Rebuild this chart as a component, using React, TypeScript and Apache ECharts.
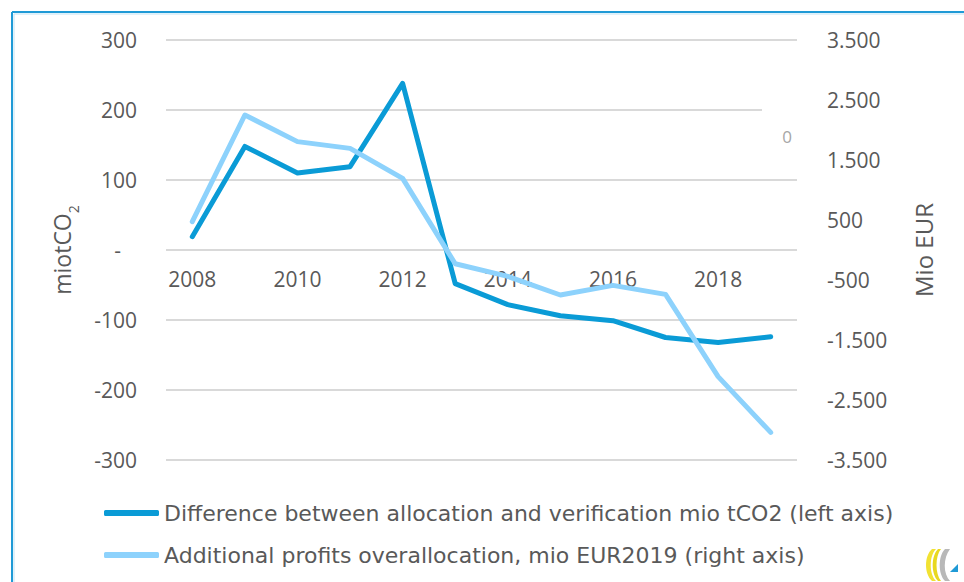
import React, { useEffect, useRef } from "react";
import * as echarts from "echarts";

const years = ["2008", "2009", "2010", "2011", "2012", "2013", "2014", "2015", "2016", "2017", "2018", "2019"];
const differenceMtCO2 = [19, 148, 110, 119, 238, -48, -78, -94, -101, -125, -132, -124];
const additionalProfitsMioEUR = [472, 2250, 1806, 1694, 1194, -230, -440, -750, -590, -740, -2110, -3040];
const seriesNames = [
  "Difference between allocation and verification mio tCO2 (left axis)",
  "Additional profits overallocation, mio EUR2019 (right axis)",
];
const leftAxisName = "miotCO";
const rightAxisName = "Mio EUR";
const strayLabel = "0";

const LOGO_YELLOW_A = "M10,2 C2,9 2,27 10,34 L14,34 C7,27 7,9 14,2 Z";
const LOGO_YELLOW_B = "M16,2 C9,9 9,27 16,34 L19,34 C13,27 13,9 19,2 Z";
const LOGO_GREY = "M23,2 C16,9 16,27 23,34 L28,34 C21,27 21,11 28,2 Z";

function fmtThousands(v: number): string {
  const s = Math.abs(v).toString();
  const withDots = s.replace(/\B(?=(\d{3})+(?!\d))/g, ".");
  return (v < 0 ? "-" : "") + withDots;
}

export default function App() {
  const ref = useRef<HTMLDivElement>(null);
  useEffect(() => {
    document.body.style.margin = "0";
    if (!ref.current) return;
    try {
      echarts.graphic.registerShape("logoYA", echarts.graphic.extendPath(LOGO_YELLOW_A, {}) as any);
      echarts.graphic.registerShape("logoYB", echarts.graphic.extendPath(LOGO_YELLOW_B, {}) as any);
      echarts.graphic.registerShape("logoG", echarts.graphic.extendPath(LOGO_GREY, {}) as any);
    } catch (e) {}
    const chart = echarts.init(ref.current, undefined, { renderer: "svg" });
    const labelColor = "#595959";
    const axisFont = "'Open Sans', sans-serif";
    chart.setOption({
      animation: false,
      backgroundColor: "#ffffff",
      grid: { left: 166, right: 167, top: 40, bottom: 122, containLabel: false },
      legend: {
        orient: "vertical",
        left: 104,
        top: 501,
        padding: 0,
        itemWidth: 55,
        itemHeight: 6,
        itemGap: 18,
        icon: "roundRect",
        data: seriesNames,
        textStyle: {
          color: labelColor,
          fontFamily: "'DejaVu Sans', sans-serif",
          fontSize: 22,
          lineHeight: 24,
        },
      },
      xAxis: {
        type: "category",
        data: years,
        boundaryGap: true,
        position: "bottom",
        offset: -210,
        axisLine: { show: false, onZero: false },
        axisTick: { show: false },
        axisLabel: {
          interval: 1,
          color: labelColor,
          fontFamily: axisFont,
          fontSize: 21,
          margin: 18,
        },
        splitLine: { show: false },
      },
      yAxis: [
        {
          type: "value",
          min: -300,
          max: 300,
          interval: 100,
          position: "left",
          name: "{a|" + leftAxisName + "}{b|2}",
          nameLocation: "middle",
          nameRotate: 90,
          nameGap: 90,
          nameTextStyle: {
            rich: {
              a: { fontFamily: axisFont, fontSize: 23, color: labelColor, lineHeight: 28 },
              b: { fontFamily: axisFont, fontSize: 14, color: labelColor, verticalAlign: "bottom", lineHeight: 28, padding: [0, 0, -4, 0] },
            },
          },
          axisLine: { show: false },
          axisTick: { show: false },
          axisLabel: {
            color: labelColor,
            fontFamily: axisFont,
            fontSize: 21,
            margin: 29,
            formatter: (v: number) => (v === 0 ? "{d|-}" : String(v)),
            rich: { d: { color: labelColor, fontFamily: axisFont, fontSize: 21, padding: [0, 16, 0, 0] } },
          },
          splitLine: { show: true, lineStyle: { color: "#d9d9d9", width: 2 } },
        },
        {
          type: "value",
          min: -3500,
          max: 3500,
          interval: 500,
          position: "right",
          name: rightAxisName,
          nameLocation: "middle",
          nameRotate: 90,
          nameGap: 114,
          nameTextStyle: { color: labelColor, fontFamily: axisFont, fontSize: 24 },
          axisLine: { show: false },
          axisTick: { show: false },
          axisLabel: {
            color: labelColor,
            fontFamily: axisFont,
            fontSize: 21,
            margin: 30,
            formatter: (v: number) => (v % 1000 === 0 ? "" : fmtThousands(v)),
          },
          splitLine: { show: false },
        },
      ],
      series: [
        {
          name: seriesNames[0],
          type: "line",
          yAxisIndex: 0,
          data: differenceMtCO2,
          symbol: "none",
          color: "#0a9bd6",
          lineStyle: { color: "#0a9bd6", width: 5, cap: "round", join: "round" },
        },
        {
          name: seriesNames[1],
          type: "line",
          yAxisIndex: 1,
          data: additionalProfitsMioEUR,
          symbol: "none",
          color: "#8dd2fc",
          lineStyle: { color: "#8dd2fc", width: 5, cap: "round", join: "round" },
        },
      ],
      graphic: [
        { type: "line", shape: { x1: 12, y1: 12, x2: 964, y2: 12 }, style: { stroke: "#1f9ad6", lineWidth: 2 } },
        { type: "line", shape: { x1: 12, y1: 12, x2: 12, y2: 582 }, style: { stroke: "#1f9ad6", lineWidth: 2 } },
        { type: "line", shape: { x1: 14, y1: 14, x2: 964, y2: 14 }, style: { stroke: "#bfe3f5", lineWidth: 1 } },
        { type: "line", shape: { x1: 14, y1: 14, x2: 14, y2: 582 }, style: { stroke: "#bfe3f5", lineWidth: 1 } },
        { type: "rect", shape: { x: 762, y: 106, width: 40, height: 8 }, style: { fill: "#ffffff" }, z: 100 },
        {
          type: "text",
          x: 787,
          y: 136,
          z: 100,
          style: { text: strayLabel, fill: "#a6a6a6", fontFamily: axisFont, fontSize: 17, align: "center", verticalAlign: "middle" },
        },
        { type: "logoYA", x: 922, y: 547, style: { fill: "#f2e232" } },
        { type: "logoYB", x: 922, y: 547, style: { fill: "#e8d820" } },
        { type: "logoG", x: 922, y: 547, style: { fill: "#b8b8b8" } },
        { type: "polygon", shape: { points: [[950, 572], [958, 564], [958, 572]] }, style: { fill: "#1f9ad6" } },
      ],
    });
    return () => chart.dispose();
  }, []);
  return <div ref={ref} style={{ width: 964, height: 582 }} />;
}
